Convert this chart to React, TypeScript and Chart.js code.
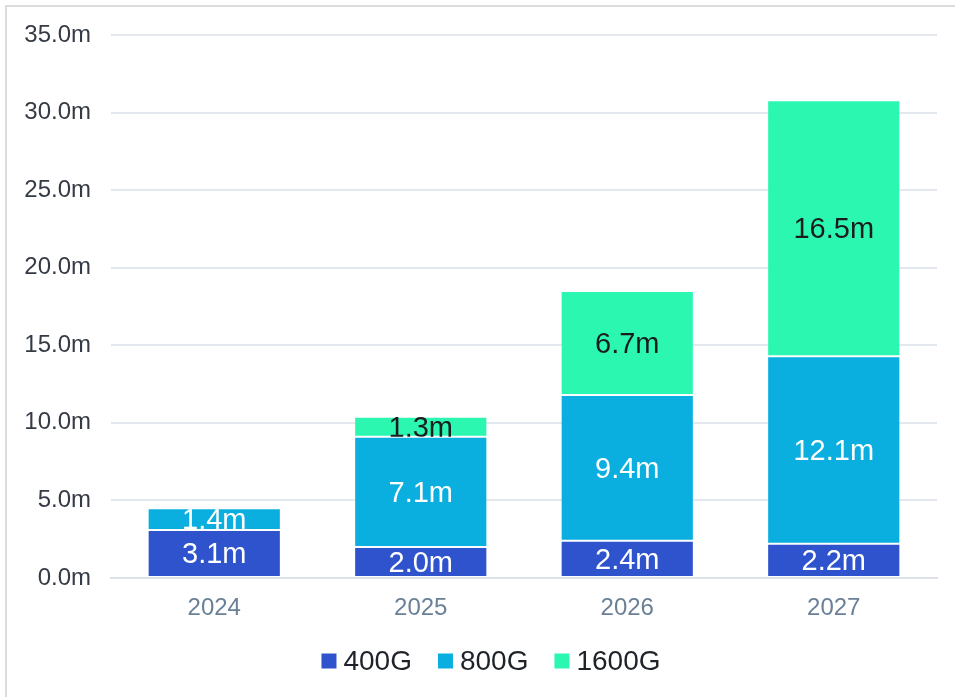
import React, { useEffect, useRef } from "react";
import { Chart, registerables } from "chart.js";

Chart.register(...registerables);

const years = ["2024", "2025", "2026", "2027"];
const seriesNames = ["400G", "800G", "1600G"];
const values400G = [3.1, 2.0, 2.4, 2.2];
const values800G = [1.4, 7.1, 9.4, 12.1];
const values1600G = [0, 1.3, 6.7, 16.5];
const seriesColors = ["#2E53CC", "#0AAFE0", "#2CF7B0"];
const labelColors = ["#ffffff", "#ffffff", "#1a1c1f"];

const FONT = "'Liberation Sans', Arial, Helvetica, sans-serif";

// Value labels centred in each stacked segment, clipped to the segment.
const segmentLabels = {
  id: "segmentLabels",
  afterDatasetsDraw(chart: any) {
    const ctx = chart.ctx;
    chart.data.datasets.forEach((ds: any, di: number) => {
      const meta = chart.getDatasetMeta(di);
      meta.data.forEach((bar: any, i: number) => {
        const v = ds.data[i];
        if (!v) return;
        const { x, y, base, width } = bar.getProps(["x", "y", "base", "width"], true);
        const top = Math.min(y, base);
        const h = Math.abs(base - y);
        ctx.save();
        ctx.beginPath();
        ctx.rect(x - width / 2, top, width, h);
        ctx.clip();
        ctx.font = `29px ${FONT}`;
        ctx.fillStyle = labelColors[di];
        ctx.textAlign = "center";
        ctx.textBaseline = "middle";
        ctx.fillText(v.toFixed(1) + "m", x, top + h / 2 + 2);
        ctx.restore();
      });
    });
  },
};

// Legend row of square swatches under the axis.
const bottomLegend = {
  id: "bottomLegend",
  afterDraw(chart: any) {
    const ctx = chart.ctx;
    ctx.save();
    ctx.font = `28px ${FONT}`;
    const box = 15;
    const gapText = 7;
    const gapItem = 26;
    const widths = seriesNames.map((n) => ctx.measureText(n).width);
    const total =
      widths.reduce((a, w) => a + box + gapText + w, 0) + gapItem * (seriesNames.length - 1);
    let x = 491 - total / 2;
    const cy = 661;
    seriesNames.forEach((name, i) => {
      ctx.fillStyle = seriesColors[i];
      ctx.fillRect(x, cy - box / 2, box, box);
      x += box + gapText;
      ctx.fillStyle = "#1f2329";
      ctx.textAlign = "left";
      ctx.textBaseline = "middle";
      ctx.fillText(name, x, cy + 1);
      x += widths[i] + gapItem;
    });
    ctx.restore();
  },
};

export default function App() {
  const canvasRef = useRef<HTMLCanvasElement | null>(null);

  useEffect(() => {
    const canvas = canvasRef.current;
    if (!canvas) return;
    const data = [values400G, values800G, values1600G];
    const chart = new Chart(canvas, {
      type: "bar",
      data: {
        labels: years,
        datasets: seriesNames.map((name, i) => ({
          label: name,
          data: data[i],
          backgroundColor: seriesColors[i],
          borderColor: "rgba(255,255,255,0.3)",
          borderWidth: 1,
          borderSkipped: false,
          barPercentage: 0.645,
          categoryPercentage: 1,
        })),
      },
      options: {
        responsive: false,
        animation: false,
        layout: { padding: { left: 0, right: 18, top: 35, bottom: 0 } },
        plugins: {
          legend: { display: false },
          tooltip: { enabled: false },
        },
        scales: {
          x: {
            stacked: true,
            grid: { display: false, drawTicks: false },
            border: { display: true, color: "#dde2ea", width: 2 },
            ticks: {
              color: "#6A8097",
              font: { family: FONT, size: 24 },
              padding: 16,
            },
            afterFit(scale: any) {
              scale.height = 119;
            },
          },
          y: {
            stacked: true,
            min: 0,
            max: 35,
            grid: { color: "#e3e7ee", lineWidth: 2, drawTicks: false },
            border: { display: false },
            ticks: {
              stepSize: 5,
              color: "#353b44",
              font: { family: FONT, size: 24 },
              padding: 20,
              callback: (v: any) => Number(v).toFixed(1) + "m",
            },
            afterFit(scale: any) {
              scale.width = 111;
            },
          },
        },
      },
      plugins: [segmentLabels, bottomLegend],
    });
    return () => chart.destroy();
  }, []);

  return (
    <div style={{ position: "fixed", left: 0, top: 0, width: 955, height: 697, background: "#fff" }}>
      <canvas ref={canvasRef} width={955} height={697} style={{ position: "absolute", left: 0, top: 0 }} />
      <div
        style={{
          position: "absolute",
          left: 5,
          top: 5,
          width: 1000,
          height: 800,
          borderLeft: "2px solid #dcdcdc",
          borderTop: "2px solid #dcdcdc",
          pointerEvents: "none",
        }}
      />
    </div>
  );
}
